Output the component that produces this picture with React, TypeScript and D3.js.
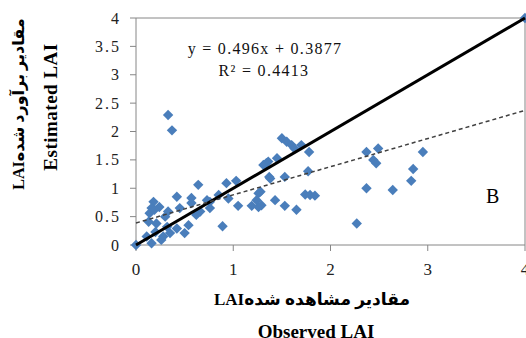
import React from 'react';
import * as d3 from 'd3';

// observed vs estimated LAI
const observed = [
  0, 4, 0.33, 0.37, 0.16, 1.34, 1.37, 0.64, 0.93, 1.03, 0.42, 0.57, 0.57, 0.18, 0.16, 0.24,
  0.76, 0.85, 0.95, 0.76, 1.05, 0.89, 1.19, 1.26, 1.24, 0.33, 0.45, 0.54, 0.21, 0.3, 0.66,
  0.73, 0.62, 0.11, 0.2, 0.28, 0.35, 0.42, 0.32, 0.26, 1.5, 1.55, 1.6, 1.63, 1.7, 1.78,
  1.45, 1.36, 1.31, 1.38, 1.53, 1.77, 1.28, 1.29, 1.43, 1.53, 1.65, 1.74, 1.79, 1.84, 2.37,
  2.49, 2.44, 2.47, 2.37, 2.64, 2.27, 2.95, 2.85, 2.83, 0.13, 0.14, 0.5, 0.19, 1.26,
];
const estimated = [
  0, 4, 2.29, 2.02, 0.03, 1.44, 1.2, 1.06, 1.09, 1.13, 0.85, 0.83, 0.74, 0.76, 0.65, 0.67,
  0.76, 0.88, 0.82, 0.65, 0.69, 0.33, 0.69, 0.67, 0.79, 0.59, 0.65, 0.35, 0.38, 0.5, 0.59,
  0.79, 0.53, 0.15, 0.23, 0.15, 0.21, 0.29, 0.32, 0.09, 1.88, 1.82, 1.76, 1.7, 1.76, 1.64,
  1.53, 1.47, 1.41, 1.17, 1.2, 1.3, 0.94, 0.7, 0.79, 0.69, 0.62, 0.89, 0.88, 0.87, 1.64,
  1.7, 1.5, 1.44, 1.0, 0.97, 0.38, 1.64, 1.34, 1.13, 0.41, 0.56, 0.21, 0.62, 0.91,
];
const xTicks = [0, 1, 2, 3, 4];
const yTicks = [0, 0.5, 1, 1.5, 2, 2.5, 3, 3.5, 4];
const slope = 0.496;
const intercept = 0.3877;
const equationText = 'y = 0.496x + 0.3877';
const r2Text = 'R² = 0.4413';
const panelLabel = 'B';
const xTitleFa = 'مقادیر مشاهده شدهLAI';
const xTitleEn = 'Observed LAI';
const yTitleFa = 'مقادیر برآورد شدهLAI';
const yTitleEn = 'Estimated LAI';

const serif = '"Liberation Serif", "Times New Roman", "DejaVu Sans", serif';

export default function App() {
  const x = d3.scaleLinear().domain([0, 4]).range([136, 525]);
  const y = d3.scaleLinear().domain([0, 4]).range([245, 18]);
  const axisColor = '#868686';

  const diamond = d3.symbol().type(d3.symbolSquare).size(54)();
  const points = observed.map((o, i) => [o, estimated[i]]);
  const line = d3.line<number[]>().x(d => x(d[0])).y(d => y(d[1]));

  return (
    <svg width={526} height={338} style={{ position: 'absolute', left: 0, top: 0, background: '#fff' }}>
      {/* frame */}
      <line x1={x(0)} x2={x(4)} y1={y(4)} y2={y(4)} stroke={axisColor} />
      <line x1={x(4)} x2={x(4)} y1={y(4)} y2={y(0)} stroke={axisColor} />
      <line x1={x(0)} x2={x(0)} y1={y(4)} y2={y(0)} stroke={axisColor} />
      <line x1={x(0)} x2={x(4)} y1={y(0)} y2={y(0)} stroke={axisColor} />

      {yTicks.map(t => (
        <g key={'y' + t}>
          <line x1={x(0) - 6} x2={x(0)} y1={y(t)} y2={y(t)} stroke={axisColor} />
          <text x={x(0) - 15} y={y(t)} dy="0.35em" textAnchor="end" fontFamily={serif}
            fontSize={16} letterSpacing={2} fill="#222">{t}</text>
        </g>
      ))}
      {xTicks.map(t => (
        <g key={'x' + t}>
          <line x1={x(t)} x2={x(t)} y1={y(0)} y2={y(0) + 6} stroke={axisColor} />
          <text x={x(t)} y={275} textAnchor="middle" fontFamily={serif}
            fontSize={17} fill="#222">{t}</text>
        </g>
      ))}

      {points.map((p, i) => (
        <path key={i} d={diamond!} fill="#4a7ebb"
          transform={`translate(${x(p[0])},${y(p[1])}) rotate(45)`} />
      ))}

      {/* 1:1 line */}
      <path d={line([[0, 0], [4, 4]])!} stroke="#000" strokeWidth={3} fill="none" />
      {/* regression */}
      <path d={line([[0, intercept], [4, intercept + slope * 4]])!} stroke="#404040"
        strokeWidth={1.5} strokeDasharray="4,3" fill="none" />

      <text x={265} y={54} textAnchor="middle" fontFamily={serif} fontSize={16}
        letterSpacing={1.3} fill="#111">{equationText}</text>
      <text x={264} y={76} textAnchor="middle" fontFamily={serif} fontSize={16}
        letterSpacing={1.3} fill="#111">{r2Text}</text>

      <text x={486} y={203} fontFamily={serif} fontSize={20} fill="#000">{panelLabel}</text>

      <text x={312} y={305} textAnchor="middle" direction="rtl" fontFamily={serif}
        fontSize={17} fontWeight="bold" fill="#000">{xTitleFa}</text>
      <text x={316} y={338} textAnchor="middle" fontFamily={serif} fontSize={19}
        fontWeight="bold" fill="#000">{xTitleEn}</text>

      <text transform="translate(24,104) rotate(-90)" textAnchor="middle" direction="rtl"
        fontFamily={serif} fontSize={16} fontWeight="bold" fill="#000">{yTitleFa}</text>
      <text transform="translate(57,107) rotate(-90)" textAnchor="middle" fontFamily={serif}
        fontSize={19} letterSpacing={0.5} fontWeight="bold" fill="#000">{yTitleEn}</text>
    </svg>
  );
}
